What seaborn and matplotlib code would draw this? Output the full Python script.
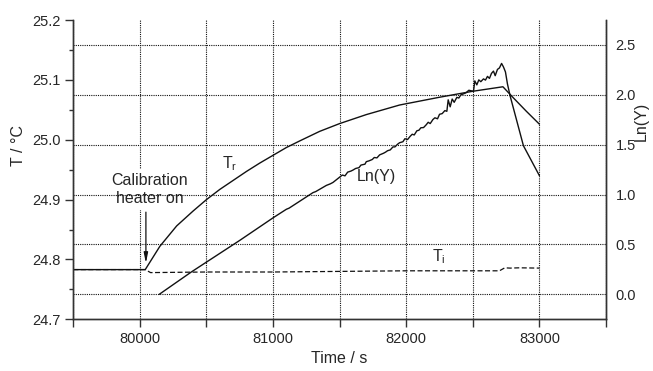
import matplotlib
matplotlib.use("Agg")
import matplotlib.pyplot as plt
from matplotlib.ticker import MultipleLocator, FormatStrFormatter
import seaborn as sns

# Reaction-vessel temperature T_r (left axis)
time_r = [79500, 79800, 80040, 80150, 80276, 80400, 80500, 80600, 80700, 80800,
          80900, 81000, 81100, 81200, 81350, 81500, 81700, 81950, 82250, 82500,
          82726, 82800, 82900, 83000]
temp_r = [24.783, 24.783, 24.783, 24.822, 24.856, 24.881, 24.900, 24.917, 24.932,
          24.947, 24.961, 24.974, 24.987, 24.998, 25.014, 25.027, 25.042, 25.058,
          25.071, 25.081, 25.0885, 25.071, 25.048, 25.026]

# Jacket temperature T_i (left axis)
time_i = [79500, 80040, 80080, 80500, 81000, 81500, 82000, 82500, 82700, 82740,
          82780, 82850, 83000]
temp_i = [24.783, 24.783, 24.778, 24.779, 24.779, 24.780, 24.781, 24.781, 24.781,
          24.786, 24.7855, 24.786, 24.7855]

# Ln(Y) (right axis)
time_ln = [80145, 80388, 80752, 81002, 81100, 81120, 81248, 81300, 81320, 81400,
           81430, 81450, 81500, 81520, 81540, 81560, 81585, 81600, 81620, 81645,
           81660, 81690, 81700, 81720, 81745, 81760, 81780, 81800, 81830, 81845,
           81860, 81880, 81900, 81915, 81935, 81950, 81975, 81990, 82010, 82030,
           82045, 82060, 82080, 82095, 82110, 82130, 82150, 82165, 82180, 82200,
           82215, 82235, 82250, 82270, 82290, 82305, 82315, 82330, 82345, 82360,
           82380, 82395, 82410, 82430, 82450, 82470, 82490, 82505, 82515, 82530,
           82545, 82560, 82580, 82595, 82610, 82625, 82640, 82655, 82668, 82685,
           82700, 82716, 82730, 82745, 82760, 82780, 82830, 82880, 82940, 83000]
ln_y = [0.000, 0.226, 0.543, 0.769, 0.853, 0.864, 0.975, 1.020, 1.030, 1.092,
        1.108, 1.122, 1.175, 1.196, 1.188, 1.225, 1.236, 1.246, 1.262, 1.270,
        1.296, 1.305, 1.330, 1.338, 1.352, 1.372, 1.368, 1.398, 1.415, 1.426,
        1.440, 1.448, 1.478, 1.478, 1.505, 1.520, 1.530, 1.560, 1.552, 1.585,
        1.605, 1.598, 1.640, 1.645, 1.670, 1.672, 1.700, 1.725, 1.712, 1.752,
        1.770, 1.760, 1.805, 1.812, 1.842, 1.835, 1.950, 1.880, 1.958, 1.925,
        1.975, 1.968, 2.000, 2.010, 2.022, 2.046, 2.040, 2.035, 2.140, 2.100,
        2.150, 2.132, 2.160, 2.148, 2.185, 2.165, 2.215, 2.238, 2.192, 2.255,
        2.270, 2.315, 2.280, 2.230, 2.110, 1.990, 1.740, 1.490, 1.340, 1.190]

left_ticks = [24.7, 24.8, 24.9, 25.0, 25.1, 25.2]
right_ticks = [0.0, 0.5, 1.0, 1.5, 2.0, 2.5]

sns.set_theme(style="white")
plt.rcParams["font.family"] = ["Liberation Sans", "DejaVu Sans"]
plt.rcParams["mathtext.default"] = "regular"

fig, ax = plt.subplots(figsize=(6.53, 3.71), dpi=100)
fig.subplots_adjust(left=0.1123, right=0.928, top=0.946, bottom=0.1394)
ax2 = ax.twinx()

dot = (0, (1, 1))
ink = "#111111"

sns.lineplot(x=time_r, y=temp_r, ax=ax, color=ink, lw=1.0, estimator=None, sort=False)
sns.lineplot(x=time_i, y=temp_i, ax=ax, color=ink, lw=0.9, estimator=None, sort=False,
             linestyle=(0, (4, 2)))
sns.lineplot(x=time_ln, y=ln_y, ax=ax2, color=ink, lw=1.0, estimator=None, sort=False)

ax.set_xlim(79500, 83500)
ax.set_ylim(24.7, 25.2)
ax2.set_ylim(-0.25, 2.75)

ax.xaxis.set_major_locator(MultipleLocator(1000))
ax.xaxis.set_minor_locator(MultipleLocator(500))
ax.set_yticks(left_ticks)
ax.yaxis.set_minor_locator(MultipleLocator(0.05))
ax.yaxis.set_major_formatter(FormatStrFormatter("%.1f"))
ax2.set_yticks(right_ticks)
ax2.yaxis.set_major_formatter(FormatStrFormatter("%.1f"))

ax.grid(axis="x", which="both", linestyle=dot, color=ink, lw=0.8)
ax.grid(axis="y", visible=False)
ax2.grid(axis="y", which="major", linestyle=dot, color=ink, lw=0.8)
ax2.grid(axis="x", visible=False)

ax.tick_params(axis="x", which="both", bottom=True, direction="out", length=5.5,
               width=1, color="#333333", labelsize=10.5, pad=4)
ax.tick_params(axis="y", which="major", left=True, direction="out", length=6,
               width=1, color="#333333", labelsize=10.5, pad=3)
ax.tick_params(axis="y", which="minor", left=True, direction="out", length=3,
               width=1, color="#333333")
ax2.tick_params(axis="y", which="both", right=True, length=0, labelsize=10.5, pad=7)

for a in (ax, ax2):
    a.spines["top"].set_visible(False)
    for s in ("left", "bottom", "right"):
        a.spines[s].set_color("#333333")
        a.spines[s].set_linewidth(1.0)

ax.set_xlabel("Time / s", fontsize=11.5, labelpad=3)
ax.set_ylabel("T / °C", fontsize=11.5)
ax.yaxis.set_label_coords(-0.088, 0.58)
ax2.set_ylabel("Ln(Y)", fontsize=11.5)
ax2.yaxis.set_label_coords(1.052, 0.66)

ax.text(80071, 24.917, "Calibration\nheater on", ha="center", va="center",
        fontsize=11.5, linespacing=1.25,
        bbox=dict(fc="white", ec="none", pad=3))
ax.annotate("", xy=(80045, 24.7936), xytext=(80045, 24.879),
            arrowprops=dict(arrowstyle="-|>,head_width=0.1,head_length=0.5",
                            color=ink, lw=0.9, shrinkA=0, shrinkB=0))
ax.text(80617, 24.952, "T$_r$", ha="left", va="baseline", fontsize=11.5)
ax2.text(81632, 1.132, "Ln(Y)", ha="left", va="baseline", fontsize=11.5)
ax.text(82193, 24.7975, "T$_i$", ha="left", va="baseline", fontsize=11.5)

fig.savefig("out.png", dpi=100, facecolor="white")
